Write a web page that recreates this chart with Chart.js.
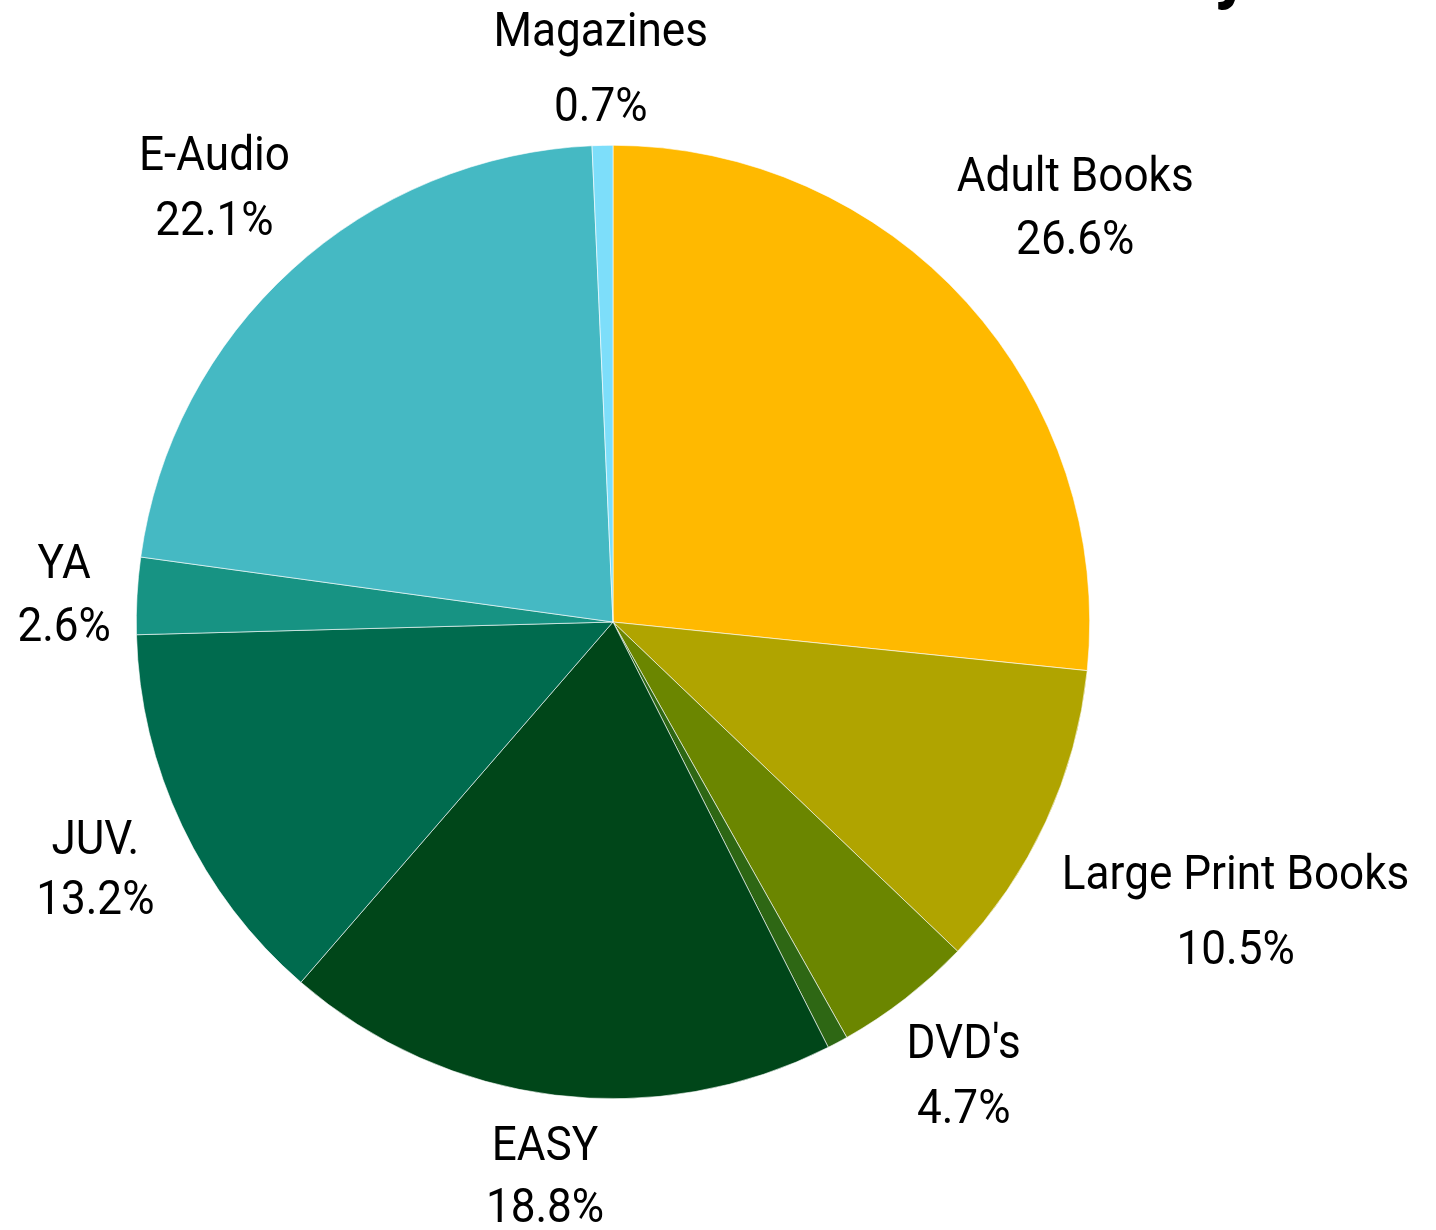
<!DOCTYPE html>
<html lang="en">
<head>
    <meta charset="UTF-8">
    <title>Circulation by Collection</title>
    <script src="https://cdn.jsdelivr.net/npm/chart.js"></script>
    <style>
        html, body {
            margin: 0;
            padding: 0;
            background: #fff;
            overflow: hidden;
        }
        .wrap {
            position: relative;
            width: 1436px;
            height: 1230px;
        }
        /* bottom of the cut-off title, only the descender shows */
        .title-cut {
            position: absolute;
            left: 1190px;
            top: 0;
            width: 90px;
            height: 14px;
            overflow: hidden;
        }
        .title-cut span {
            position: absolute;
            left: 24px;
            top: -73px;
            font: bold 72px "Roboto", sans-serif;
            color: #000;
        }
    </style>
</head>
<body>
    <div class="wrap">
        <canvas id="pie" width="1436" height="1230"></canvas>
        <div class="title-cut"><span>y</span></div>
    </div>

    <script>
        // categories, clockwise from 12 o'clock
        const categories = ['Adult Books', 'Large Print Books', "DVD's", '', 'EASY', 'JUV.', 'YA', 'E-Audio', 'Magazines'];
        const shares = [26.6, 10.5, 4.7, 0.7, 18.8, 13.2, 2.6, 22.1, 0.7];
        const colours = ['#FFB900', '#B0A400', '#6B8600', '#2E6714', '#004619', '#006B4E', '#179383', '#45B9C3', '#7DDEFA'];
        // extra distance of each label past the rim, and the gap between its two lines
        const labelGap = [146, 209, 95, 0, 79, 96, 73, 115, 79];
        const lineGap = [63, 75, 65, 63, 62, 60, 63, 65, 75];

        const FONT_SIZE = 49;
        const SQUEEZE = 0.9;   // the original face is narrower than Roboto

        function drawText(ctx, text, x, capMid) {
            ctx.save();
            ctx.translate(x, capMid + FONT_SIZE * 0.711 / 2);
            ctx.scale(SQUEEZE, 1);
            ctx.fillText(text, 0, 0);
            ctx.restore();
        }

        const labelPlugin = {
            id: 'outerLabels',
            afterDatasetsDraw(chart) {
                const ctx = chart.ctx;
                const arcs = chart.getDatasetMeta(0).data;
                ctx.save();
                ctx.fillStyle = '#000';
                ctx.textAlign = 'center';
                ctx.textBaseline = 'alphabetic';
                ctx.font = FONT_SIZE + 'px "Roboto", sans-serif';
                arcs.forEach((arc, i) => {
                    if (!categories[i]) return;
                    const mid = (arc.startAngle + arc.endAngle) / 2;
                    const r = arc.outerRadius + labelGap[i];
                    const x = arc.x + Math.cos(mid) * r;
                    const y = arc.y + Math.sin(mid) * r;
                    drawText(ctx, categories[i], x, y - lineGap[i] / 2);
                    drawText(ctx, shares[i].toFixed(1) + '%', x, y + lineGap[i] / 2);
                });
                ctx.restore();
            }
        };

        new Chart(document.getElementById('pie'), {
            type: 'pie',
            data: {
                labels: categories,
                datasets: [{
                    data: shares,
                    backgroundColor: colours,
                    borderColor: '#ffffff',
                    borderWidth: 0.6
                }]
            },
            options: {
                responsive: false,
                animation: false,
                layout: {
                    padding: { left: 136, right: 346, top: 145, bottom: 131 }
                },
                plugins: {
                    legend: { display: false },
                    tooltip: { enabled: false }
                }
            },
            plugins: [labelPlugin]
        });
    </script>
</body>
</html>
